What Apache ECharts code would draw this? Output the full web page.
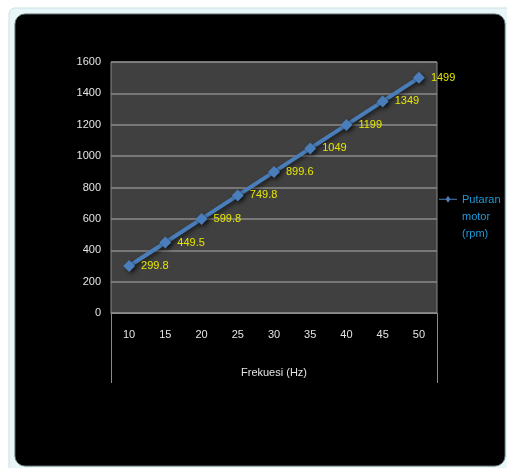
<!DOCTYPE html>
<html>
<head>
<meta charset="utf-8">
<script src="https://cdn.jsdelivr.net/npm/echarts@6/dist/echarts.min.js"></script>
<style>
  html, body { margin: 0; padding: 0; background: #ffffff; }
  #chart { width: 507px; height: 468px; }
</style>
</head>
<body>
<div id="chart"></div>
<script>
// Motor speed versus supply frequency
const frequencies = ['10', '15', '20', '25', '30', '35', '40', '45', '50'];
const motorSpeed = [299.8, 449.5, 599.8, 749.8, 899.6, 1049, 1199, 1349, 1499];
const seriesName = 'Putaran\nmotor\n(rpm)';
const axisTitle = 'Frekuesi (Hz)';

const FONT = '"Liberation Sans", "DejaVu Sans", sans-serif';
const chart = echarts.init(document.getElementById('chart'), null, { renderer: 'canvas' });

const gridBox = { left: 111, right: 70, top: 62, bottom: 155 };
const W = 507, H = 468;
const gx0 = gridBox.left, gx1 = W - gridBox.right, gy1 = H - gridBox.bottom;

// Legend marker: line with a diamond, kept at the top of a taller box so it
// sits beside the first line of the three-line series name.
const legendIcon = 'path://M0,4.5 L7,4.5 L9,1.5 L11,4.5 L18,4.5 L18,5.5 L11,5.5 L9,8.5 L7,5.5 L0,5.5 Z M9,43 L9.01,43 Z';

chart.setOption({
  backgroundColor: '#ffffff',
  animation: false,
  graphic: [
    // window frame around the chart
    { type: 'rect', z: -10, shape: { x: 9, y: 8, width: 506, height: 470, r: 6 },
      style: { fill: '#e9f6f8', stroke: '#c9dfe3', lineWidth: 1 } },
    { type: 'rect', z: -9, shape: { x: 15, y: 14, width: 490, height: 452, r: 10 },
      style: { fill: '#000000', stroke: '#5a6a6c', lineWidth: 1 } },
    // box framing the category labels below the plot
    { type: 'line', z: 5, shape: { x1: gx0 + 0.5, y1: gy1, x2: gx0 + 0.5, y2: 383 },
      style: { stroke: '#8a8a8a', lineWidth: 1 } },
    { type: 'line', z: 5, shape: { x1: gx1 + 0.5, y1: gy1, x2: gx1 + 0.5, y2: 383 },
      style: { stroke: '#8a8a8a', lineWidth: 1 } }
  ],
  grid: {
    left: gridBox.left, right: gridBox.right, top: gridBox.top, bottom: gridBox.bottom,
    show: true, backgroundColor: '#404040', borderColor: '#8a8a8a', borderWidth: 1
  },
  legend: {
    left: 434, top: 186,
    orient: 'vertical',
    itemWidth: 18, itemHeight: 43,
    icon: legendIcon,
    textStyle: { color: '#1f9ad6', fontSize: 11, fontFamily: FONT, lineHeight: 17 },
    data: [{ name: seriesName, itemStyle: { color: '#4a7ebb' } }]
  },
  xAxis: {
    type: 'category',
    data: frequencies,
    boundaryGap: true,
    name: axisTitle,
    nameLocation: 'middle',
    nameGap: 54,
    nameTextStyle: { color: '#e4e4e4', fontSize: 11, fontFamily: FONT },
    axisLine: { show: true, lineStyle: { color: '#8a8a8a', width: 1 } },
    axisTick: { show: false },
    axisLabel: { color: '#e4e4e4', fontSize: 11, fontFamily: FONT, margin: 16 },
    splitLine: { show: false }
  },
  yAxis: {
    type: 'value',
    min: 0, max: 1600, interval: 200,
    axisLine: { show: false },
    axisTick: { show: false },
    axisLabel: { color: '#e4e4e4', fontSize: 11, fontFamily: FONT, margin: 10, formatter: v => String(v) },
    splitLine: { show: true, lineStyle: { color: '#8a8a8a', width: 1.5 } }
  },
  series: [{
    name: seriesName,
    type: 'line',
    data: motorSpeed,
    symbol: 'diamond',
    symbolSize: 12,
    lineStyle: { color: '#4a7ebb', width: 4, shadowColor: 'rgba(0,0,0,0.6)', shadowBlur: 4, shadowOffsetX: 2, shadowOffsetY: 2 },
    itemStyle: { color: '#4a7ebb', shadowColor: 'rgba(0,0,0,0.6)', shadowBlur: 4, shadowOffsetX: 2, shadowOffsetY: 2 },
    label: {
      show: true, position: 'right', distance: 6,
      color: '#e6e600', fontSize: 11, fontFamily: FONT,
      formatter: p => String(p.value)
    }
  }]
});
</script>
</body>
</html>
